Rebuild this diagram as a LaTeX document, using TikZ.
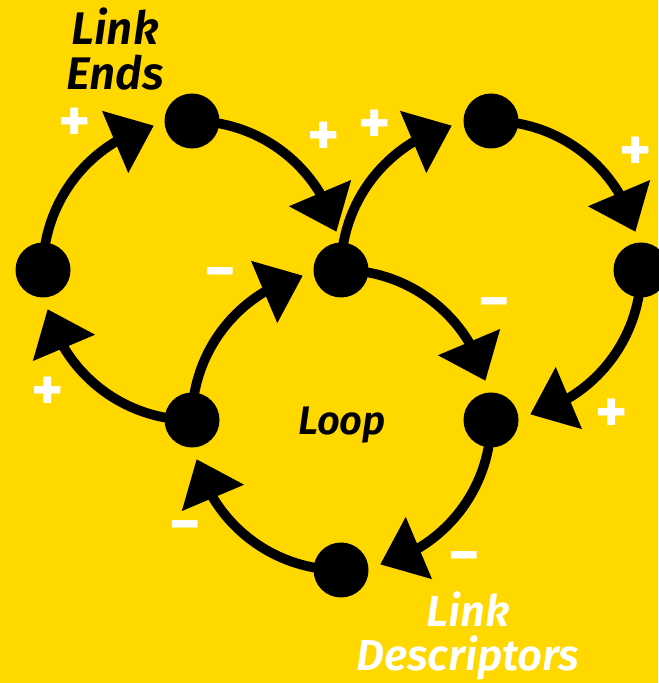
\documentclass[tikz,border=0pt]{standalone}
\usepackage{fontspec}
\setmainfont{Fira Sans}[BoldItalicFont={* SemiBold Italic}]
\usepackage{tikz}
\usetikzlibrary{arrows.meta, bending, backgrounds, positioning}
\definecolor{loopyellow}{HTML}{FFD800}
\definecolor{loopink}{HTML}{000000}

\begin{document}
\begin{tikzpicture}[
  x=0.3mm, y=0.3mm,
  dot/.style={circle, fill=loopink, minimum size=16.5mm, inner sep=0pt},
  arr/.style={-{Triangle[length=12.6mm, width=19.5mm, flex]}, line width=2.9mm, loopink},
  sgn/.style={text=white, font=\fontsize{52}{52}\selectfont\bfseries, inner sep=0pt},
  lbl/.style={align=center, font=\fontsize{39}{38}\selectfont\bfseries\itshape, inner sep=0pt}
]
\useasboundingbox (0,0) rectangle (658,683);

% the eight link ends
\node[dot] (w)  at (43,413) {};
\node[dot] (nw) at (192,562) {};
\node[dot] (c)  at (341,413) {};
\node[dot] (ne) at (491,562) {};
\node[dot] (e)  at (641,413) {};
\node[dot] (sw) at (192,263) {};
\node[dot] (se) at (491,263) {};
\node[dot] (s)  at (341,113) {};

% links, all running clockwise round three circles
\begin{scope}[on background layer]
  \fill[loopyellow] (0,0) rectangle (658,683);
  % left circle
  \draw[arr] (w.center)  arc[start angle=180, end angle=105, radius=149.5];
  \draw[arr] (nw.center) arc[start angle=90,  end angle=15,  radius=149.5];
  \draw[arr] (sw.center) arc[start angle=270, end angle=195, radius=149.5];
  % right circle
  \draw[arr] (c.center)  arc[start angle=180, end angle=105, radius=149.5];
  \draw[arr] (ne.center) arc[start angle=90,  end angle=15,  radius=149.5];
  \draw[arr] (e.center)  arc[start angle=0,   end angle=-75, radius=149.5];
  % bottom circle
  \draw[arr] (sw.center) arc[start angle=180, end angle=105, radius=149.5];
  \draw[arr] (c.center)  arc[start angle=90,  end angle=15,  radius=149.5];
  \draw[arr] (se.center) arc[start angle=0,   end angle=-75, radius=149.5];
  \draw[arr] (s.center)  arc[start angle=270, end angle=195, radius=149.5];
\end{scope}

% polarities
\node[sgn] (p1) at (75,558) {+};
\node[sgn] (p2) at (324,544) {+};
\node[sgn] (p3) at (48,289) {+};
\node[sgn] (p4) at (375,556) {+};
\node[sgn] (p5) at (636,529) {+};
\node[sgn] (p6) at (612,267) {+};
\node[sgn] (m1) at (220,403) {−};
\node[sgn] (m2) at (494,373) {−};
\node[sgn] (m3) at (464,119) {−};
\node[sgn] (m4) at (185,150) {−};

% labels
\node[lbl, anchor=north] (ends) at (115,675) {Link\\Ends};
\node[lbl, anchor=base, font=\fontsize{34}{34}\selectfont\bfseries\itshape] (loop) at (342,248) {Loop};
\node[lbl, anchor=north, text=white, font=\fontsize{37}{38}\selectfont\bfseries\itshape] (desc) at (468,92) {Link\\Descriptors};
\end{tikzpicture}
\end{document}
